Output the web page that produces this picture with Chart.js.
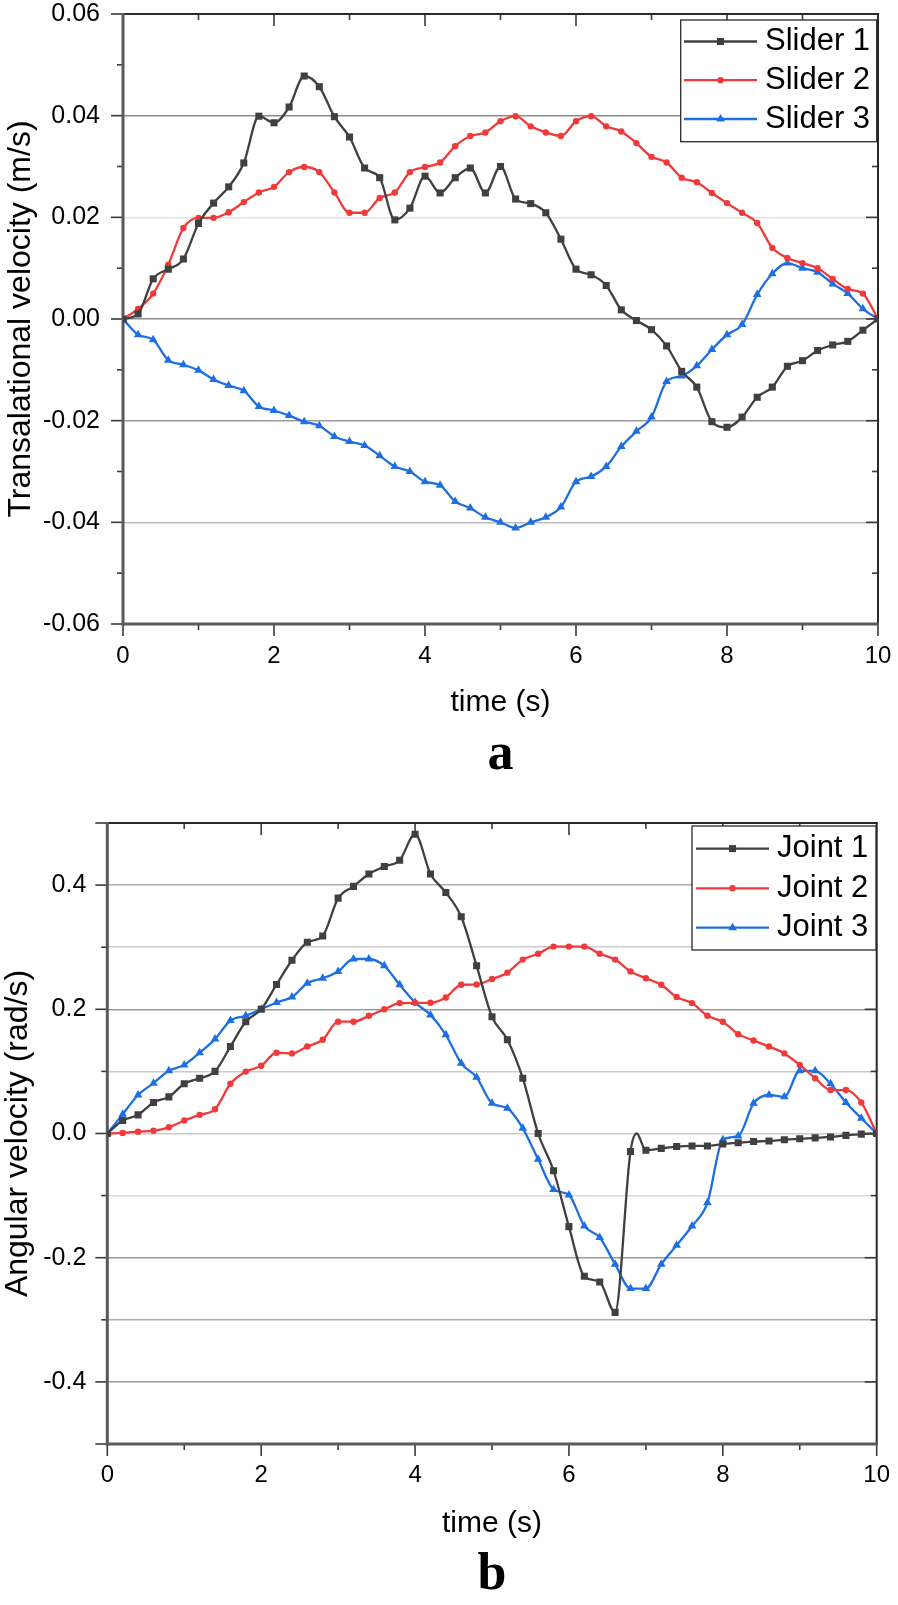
<!DOCTYPE html>
<html><head><meta charset="utf-8">
<script src="https://cdn.jsdelivr.net/npm/chart.js@4.4.1/dist/chart.umd.min.js"></script>
<style>
html,body{margin:0;padding:0;background:#fff;}
#wrap{position:relative;width:898px;height:1605px;overflow:hidden;}
#c1{position:absolute;left:0;top:0;}
#c2{position:absolute;left:0;top:800px;}
</style></head><body>
<div id="wrap"><canvas id="c1" width="898" height="800"></canvas><canvas id="c2" width="898" height="805"></canvas></div>
<script>
// ---------- data ----------
const time = [0,0.2,0.4,0.6,0.8,1,1.2,1.4,1.6,1.8,2,2.2,2.4,2.6,2.8,3,3.2,3.4,3.6,3.8,4,4.2,4.4,4.6,4.8,5,5.2,5.4,5.6,5.8,6,6.2,6.4,6.6,6.8,7,7.2,7.4,7.6,7.8,8,8.2,8.4,8.6,8.8,9,9.2,9.4,9.6,9.8,10];
const slider1 = [0,0.001,0.0079,0.0098,0.0118,0.0188,0.0228,0.026,0.0307,0.0399,0.0386,0.0417,0.0478,0.0457,0.0398,0.0358,0.0297,0.0278,0.0195,0.0218,0.0281,0.0248,0.0278,0.0297,0.0248,0.030,0.0236,0.0227,0.0209,0.0157,0.0098,0.0087,0.0066,0.0018,-0.0003,-0.0021,-0.0053,-0.0103,-0.0134,-0.0202,-0.0213,-0.0193,-0.0154,-0.0134,-0.0093,-0.0082,-0.0062,-0.0051,-0.0044,-0.0022,0];
const slider2 = [0,0.002,0.005,0.0107,0.0179,0.0199,0.0199,0.021,0.023,0.0249,0.026,0.0289,0.0299,0.0289,0.0249,0.0209,0.0209,0.0238,0.0249,0.0289,0.0299,0.0308,0.034,0.036,0.0367,0.0389,0.0399,0.0379,0.0367,0.036,0.0389,0.0399,0.0379,0.0369,0.0346,0.0319,0.0308,0.0278,0.0269,0.0248,0.0228,0.0209,0.0189,0.014,0.012,0.011,0.010,0.0079,0.0059,0.005,0];
const slider3 = [0,-0.0031,-0.0041,-0.0081,-0.009,-0.0101,-0.0119,-0.0131,-0.0141,-0.0172,-0.018,-0.019,-0.0202,-0.021,-0.0231,-0.0241,-0.0249,-0.0269,-0.029,-0.030,-0.032,-0.0327,-0.0359,-0.0372,-0.039,-0.040,-0.0411,-0.040,-0.039,-0.037,-0.032,-0.031,-0.029,-0.0251,-0.0221,-0.0193,-0.0123,-0.0112,-0.0092,-0.006,-0.0031,-0.0011,0.0048,0.0089,0.011,0.010,0.0092,0.0069,0.005,0.002,0];

const timeJ1 = [0,0.2,0.4,0.6,0.8,1,1.2,1.4,1.6,1.8,2,2.2,2.4,2.6,2.8,3,3.2,3.4,3.6,3.8,4,4.2,4.4,4.6,4.8,5,5.2,5.4,5.6,5.8,6,6.2,6.4,6.6,6.8,6.88,7,7.2,7.4,7.6,7.8,8,8.2,8.4,8.6,8.8,9,9.2,9.4,9.6,9.8,10];
const joint1 = [0,0.021,0.030,0.050,0.059,0.080,0.089,0.100,0.140,0.180,0.200,0.240,0.279,0.308,0.318,0.379,0.398,0.418,0.430,0.440,0.482,0.418,0.388,0.349,0.270,0.188,0.151,0.089,0.000,-0.060,-0.150,-0.230,-0.239,-0.288,-0.029,0.000,-0.027,-0.024,-0.021,-0.020,-0.020,-0.017,-0.015,-0.013,-0.012,-0.010,-0.0085,-0.007,-0.0055,-0.003,-0.001,0];
const joint2 = [0,0.001,0.003,0.0045,0.010,0.021,0.030,0.039,0.080,0.0997,0.109,0.130,0.129,0.140,0.151,0.180,0.180,0.1895,0.200,0.210,0.2105,0.2105,0.219,0.2395,0.240,0.2487,0.259,0.280,0.2895,0.301,0.301,0.301,0.2895,0.280,0.261,0.250,0.2395,0.2197,0.210,0.1895,0.180,0.160,0.1497,0.140,0.129,0.1105,0.089,0.070,0.070,0.050,0];
const joint3 = [0,0.031,0.062,0.081,0.101,0.1105,0.130,0.152,0.182,0.1895,0.200,0.211,0.2197,0.242,0.250,0.261,0.281,0.281,0.270,0.2395,0.211,0.191,0.159,0.113,0.0906,0.0487,0.0406,0.0084,-0.0416,-0.090,-0.099,-0.149,-0.1675,-0.2105,-0.2497,-0.2497,-0.2105,-0.180,-0.149,-0.1116,-0.010,-0.004,0.0487,0.062,0.059,0.101,0.101,0.080,0.050,0.0245,0];

const seriesNamesA = ['Slider 1','Slider 2','Slider 3'];
const seriesNamesB = ['Joint 1','Joint 2','Joint 3'];

const xTicks = [0,2,4,6,8,10];
const xTickLabels = ['0','2','4','6','8','10'];
const xMinorTicks = [1,3,5,7,9];

const yTicksA = [-0.06,-0.04,-0.02,0,0.02,0.04,0.06];
const yTickLabelsA = ['-0.06','-0.04','-0.02','0.00','0.02','0.04','0.06'];
const yMinorA = [-0.05,-0.03,-0.01,0.01,0.03,0.05];

const yTicksB = [-0.5,-0.4,-0.3,-0.2,-0.1,0,0.1,0.2,0.3,0.4,0.5];
const yTickLabelsB = ['','-0.4','','-0.2','','0.0','','0.2','','0.4',''];
const yMajorB = [-0.5,-0.4,-0.2,0,0.2,0.4,0.5];
const yMinorB = [-0.3,-0.1,0.1,0.3];

// ---------- styles ----------
const SANS = '"Liberation Sans", Arial, Helvetica, sans-serif';
const SERIF = '"Liberation Serif", "Times New Roman", serif';
const gridColorsA = ['rgba(0,0,0,0)','#bdbdbd','#9a9a9a','#8c8c8c','#e2e2e2','#8c8c8c','rgba(0,0,0,0)'];
const gridColorsB = ['rgba(0,0,0,0)','#9a9a9a','#adadad','#9a9a9a','#dadada','#cbcbcb','#cbcbcb','#9a9a9a','#cbcbcb','#adadad','rgba(0,0,0,0)'];
const COL_K = '#404040', COL_R = '#f03a3a', COL_B = '#1f6fe2';

const onGrid = v => Math.abs(v*5 - Math.round(v*5)) < 1e-6;
const pts = (xs, ys) => xs.map((t,i)=>({x:t, y:ys[i]}));

function ds(label, xs, ys, color, style, r) {
  return {
    label, data: pts(xs, ys), borderColor: color, backgroundColor: color,
    borderWidth: 2.3, pointStyle: style, legendRadius: r,
    pointRadius: ctx => (ctx.raw && onGrid(ctx.raw.x)) ? r : 0,
    pointBorderWidth: 0, pointHoverRadius: 0,
    cubicInterpolationMode: 'monotone', fill: false
  };
}

const decor = {
  id: 'decor',
  beforeDatasetsDraw(chart, args, o) {
    const {ctx, chartArea: a} = chart;
    const xs = chart.scales.x, ys = chart.scales.y;
    ctx.save();
    const seg = (x1,y1,x2,y2)=>{ctx.beginPath();ctx.moveTo(x1,y1);ctx.lineTo(x2,y2);ctx.stroke();};
    ctx.strokeStyle = '#3a3a3a'; ctx.lineWidth = 1.6;
    o.xMajor.forEach(v=>{const p=xs.getPixelForValue(v); seg(p,a.bottom,p,a.bottom+12); if(v>0&&v<10) seg(p,a.top,p,a.top+12);});
    o.xMinor.forEach(v=>{const p=xs.getPixelForValue(v); seg(p,a.bottom,p,a.bottom+6); seg(p,a.top,p,a.top+6);});
    o.yMajor.forEach(v=>{const p=ys.getPixelForValue(v); seg(a.left-12,p,a.left,p); seg(a.right-12,p,a.right,p);});
    o.yMinor.forEach(v=>{const p=ys.getPixelForValue(v); seg(a.left-6,p,a.left,p); seg(a.right-6,p,a.right,p);});
    ctx.lineWidth = 2; ctx.strokeStyle = '#2a2a2a';
    seg(a.left,a.top,a.right+1,a.top); seg(a.right,a.top,a.right,a.bottom);
    ctx.lineWidth = 3; ctx.strokeStyle = '#5a5a5a';
    seg(a.left,a.top-1,a.left,a.bottom+1.5); seg(a.left-1.5,a.bottom,a.right+1,a.bottom);
    ctx.restore();
  },
  afterDatasetsDraw(chart, args, o) {
    const {ctx} = chart; const L = o.legend;
    ctx.save();
    ctx.fillStyle = '#fff'; ctx.fillRect(L.x0, L.y0, L.x1-L.x0, L.y1-L.y0);
    ctx.strokeStyle = '#2a2a2a'; ctx.lineWidth = 1.3; ctx.strokeRect(L.x0, L.y0, L.x1-L.x0, L.y1-L.y0);
    chart.data.datasets.forEach((d,i)=>{
      const y = L.rows[i];
      ctx.strokeStyle = d.borderColor; ctx.lineWidth = d.borderWidth;
      ctx.beginPath(); ctx.moveTo(L.lx0,y); ctx.lineTo(L.lx1,y); ctx.stroke();
      ctx.fillStyle = d.backgroundColor;
      Chart.helpers.drawPoint(ctx, {pointStyle: d.pointStyle, radius: d.legendRadius, rotation: 0, borderWidth: 0}, (L.lx0+L.lx1)/2, y);
      ctx.fillStyle = '#000'; ctx.font = '31px ' + SANS; ctx.textBaseline = 'middle'; ctx.textAlign = 'left';
      ctx.fillText(d.label, L.tx, y);
    });
    ctx.restore();
  }
};

function makeChart(id, cfg) {
  return new Chart(document.getElementById(id), {
    type: 'line',
    data: {datasets: cfg.datasets},
    plugins: [decor],
    options: {
      responsive: false, animation: false, events: [],
      layout: {padding: {top: cfg.padTop, right: cfg.padRight, left: 0, bottom: 0}},
      plugins: {
        legend: {display: false}, tooltip: {enabled: false},
        title: {display: true, text: cfg.letter, position: 'bottom', fullSize: false, color: '#000',
          font: {family: SERIF, size: 52, weight: 'bold', lineHeight: 1}, padding: {top: 0, bottom: cfg.letterPad}},
        decor: {xMajor: xTicks, xMinor: xMinorTicks, yMajor: cfg.yMajor, yMinor: cfg.yMinor, legend: cfg.legend}
      },
      scales: {
        x: {
          type: 'linear', min: 0, max: 10, position: 'bottom',
          afterFit: s => { s.height = cfg.xHeight; s.paddingLeft = 0; s.paddingRight = 0; },
          afterBuildTicks: s => { s.ticks = xTicks.map(v=>({value:v})); },
          ticks: {callback: (v,i)=>xTickLabels[i], autoSkip: false, maxRotation: 0, minRotation: 0,
            color: '#000', font: {family: SANS, size: 24, lineHeight: 1}, padding: cfg.xTickPad},
          grid: {display: false, drawTicks: false}, border: {display: false},
          title: {display: true, text: 'time (s)', color: '#000', font: {family: SANS, size: 30, lineHeight: 1}, padding: {top: 0, bottom: cfg.xTitlePad}}
        },
        y: {
          type: 'linear', min: cfg.yMin, max: cfg.yMax,
          afterFit: s => { s.width = cfg.yWidth; s.paddingTop = 0; s.paddingBottom = 0; },
          afterBuildTicks: s => { s.ticks = cfg.yTicks.map(v=>({value:v})); },
          ticks: {callback: (v,i)=>cfg.yLabels[i], autoSkip: false, color: '#000',
            font: {family: SANS, size: 25, lineHeight: 1}, padding: cfg.yTickPad},
          grid: {drawTicks: false, lineWidth: 1.5, color: c => cfg.gridColors[c.index] || 'rgba(0,0,0,0)'},
          border: {display: false},
          title: {display: true, text: cfg.yTitle, color: '#000', font: {family: SANS, size: 32, lineHeight: 1}, padding: {top: cfg.yTitlePad, bottom: 0}}
        }
      }
    }
  });
}

makeChart('c1', {
  datasets: [
    ds(seriesNamesA[0], time, slider1, COL_K, 'rect', 5),
    ds(seriesNamesA[1], time, slider2, COL_R, 'circle', 3.2),
    ds(seriesNamesA[2], time, slider3, COL_B, 'triangle', 5)
  ],
  letter: 'a', letterPad: 18.6, padTop: 14, padRight: 20,
  xHeight: 105.4, xTickPad: 20.5, xTitlePad: 11.8,
  yWidth: 123, yTickPad: 23, yTitlePad: 4.9,
  yMin: -0.06, yMax: 0.06, yTicks: yTicksA, yLabels: yTickLabelsA, gridColors: gridColorsA,
  yMajor: yTicksA, yMinor: yMinorA,
  yTitle: 'Transalational velocity (m/s)',
  legend: {x0: 680.7, y0: 20, x1: 876.7, y1: 141.7, rows: [41.5, 80.2, 119], lx0: 684, lx1: 757, tx: 765}
});

makeChart('c2', {
  datasets: [
    ds(seriesNamesB[0], timeJ1, joint1, COL_K, 'rect', 5),
    ds(seriesNamesB[1], time, joint2, COL_R, 'circle', 3.2),
    ds(seriesNamesB[2], time, joint3, COL_B, 'triangle', 5)
  ],
  letter: 'b', letterPad: 3.55, padTop: 23, padRight: 21.3,
  xHeight: 105.45, xTickPad: 19, xTitlePad: 11.15,
  yWidth: 107.3, yTickPad: 21, yTitlePad: 2.2,
  yMin: -0.5, yMax: 0.5, yTicks: yTicksB, yLabels: yTickLabelsB, gridColors: gridColorsB,
  yMajor: yMajorB, yMinor: yMinorB,
  yTitle: 'Angular velocity (rad/s)',
  legend: {x0: 692, y0: 26, x1: 876, y1: 150, rows: [48.6, 88.3, 127.7], lx0: 696, lx1: 769, tx: 777}
});
</script>
</body></html>
